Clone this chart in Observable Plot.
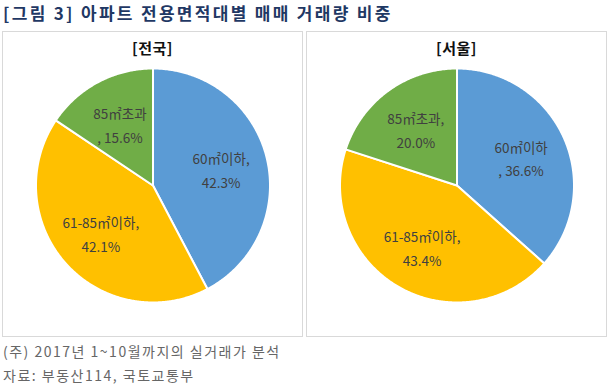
<!DOCTYPE html>
<html>
<head>
<meta charset="utf-8">
<script src="https://cdn.jsdelivr.net/npm/d3@7"></script>
<script src="https://cdn.jsdelivr.net/npm/@observablehq/plot@0.6"></script>
<style>
  html, body { margin: 0; padding: 0; background: #fff; }
  body { width: 610px; height: 384px; position: relative; overflow: hidden;
         font-family: "Noto Sans CJK KR", "Noto Sans", sans-serif; }
  #title { position: absolute; left: 3px; top: 0px; font-size: 17px; font-weight: bold;
           color: #1f3864; letter-spacing: 2.3px; white-space: nowrap; }
  .panel { position: absolute; top: 31px; width: 299px; height: 304px;
           border: 1px solid #d9d9d9; }
  .ptitle { position: absolute; left: 0; right: 0; top: 5px; text-align: center;
            font-size: 15px; font-weight: bold; color: #111; letter-spacing: 0.5px; }
  .panel svg { position: absolute; left: 0; top: 0; }
  .note { position: absolute; left: 3px; font-size: 14px; color: #666; white-space: nowrap;
          letter-spacing: 1.5px; }
</style>
</head>
<body>
<div id="title">[그림 3] 아파트 전용면적대별 매매 거래량 비중</div>
<div class="panel" id="p1" style="left:2px"><div class="ptitle">[전국]</div></div>
<div class="panel" id="p2" style="left:306px"><div class="ptitle">[서울]</div></div>
<div class="note" style="top:341px">(주) 2017년 1~10월까지의 실거래가 분석</div>
<div class="note" style="top:365px">자료: 부동산114, 국토교통부</div>
<script>
// ---- data ----
const categories = ["60㎡이하", "61-85㎡이하", "85㎡초과"];
const colors = ["#5b9bd5", "#ffc000", "#70ad47"];
const nationalValues = [42.3, 42.1, 15.6];
const seoulValues = [36.6, 43.4, 20.0];
const nationalWrap = [",\n", ",\n", "\n, "];
const seoulWrap = ["\n, ", ",\n", ",\n"];

function pieChart(values, wraps) {
  const R = 117;
  const total = d3.sum(values);
  const pts = [];
  const labels = [];
  let acc = 0;
  values.forEach((v, i) => {
    const a0 = acc / total * 2 * Math.PI;
    acc += v;
    const a1 = acc / total * 2 * Math.PI;
    pts.push({cat: categories[i], x: 0, y: 0});
    const n = Math.max(2, Math.ceil((a1 - a0) / (Math.PI / 360)));
    for (let k = 0; k <= n; k++) {
      const a = a0 + (a1 - a0) * k / n;
      pts.push({cat: categories[i], x: R * Math.sin(a), y: R * Math.cos(a)});
    }
    const am = (a0 + a1) / 2;
    const lr = R * 0.6;
    labels.push({cat: categories[i], x: lr * Math.sin(am), y: lr * Math.cos(am),
                 text: categories[i] + wraps[i] + v.toFixed(1) + "%"});
  });
  return Plot.plot({
    width: 299, height: 304,
    margin: 0,
    x: {domain: [-149.5, 149.5], axis: null},
    y: {domain: [-151, 153], axis: null},
    color: {domain: categories, range: colors},
    style: {fontFamily: '"Noto Sans CJK KR", "Noto Sans", sans-serif', background: "transparent"},
    marks: [
      Plot.line(pts, {x: "x", y: "y", z: "cat", fill: "cat", stroke: "white",
                      strokeWidth: 2, curve: "linear-closed", strokeLinejoin: "round"}),
      Plot.text(labels, {x: "x", y: "y", text: "text", fill: "#404040",
                         fontSize: 13.5, lineHeight: 1.75})
    ]
  });
}

document.getElementById("p1").appendChild(pieChart(nationalValues, nationalWrap));
document.getElementById("p2").appendChild(pieChart(seoulValues, seoulWrap));
</script>
</body>
</html>
